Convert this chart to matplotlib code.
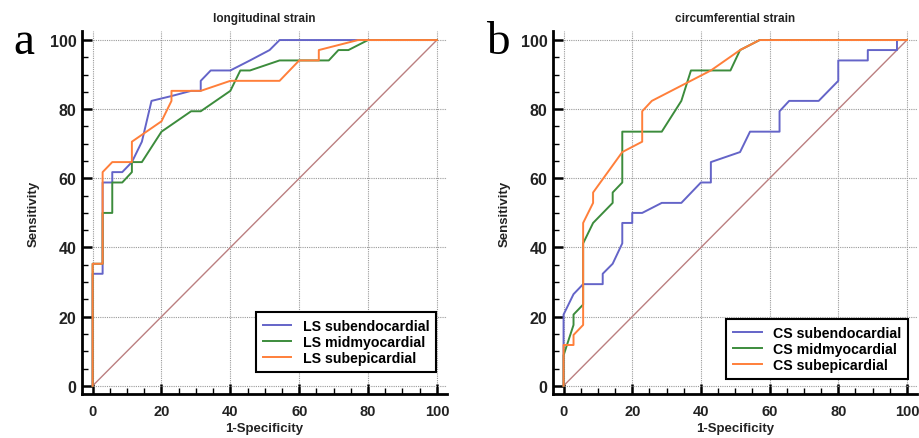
import matplotlib
matplotlib.use('Agg')
import matplotlib.pyplot as plt
from matplotlib.ticker import MultipleLocator

# ROC points, longitudinal strain (1-specificity, sensitivity in %)
ls_endo_x = [0, 0, 2.9, 2.9, 5.7, 5.7, 8.6, 11.4, 14.3, 17.1, 22.9, 28.6, 31.4, 31.4,
             34.3, 40.0, 45.7, 51.4, 54.3, 77.1, 100]
ls_endo_y = [0, 32.4, 32.4, 58.8, 58.8, 61.8, 61.8, 64.7, 70.6, 82.4, 83.8, 85.3, 85.3, 88.2,
             91.2, 91.2, 94.1, 97.1, 100, 100, 100]

ls_mid_x = [0, 0, 2.9, 2.9, 5.7, 5.7, 8.6, 11.4, 11.4, 14.3, 20.0, 28.6, 31.4, 40.0,
            42.9, 45.7, 54.3, 68.6, 71.4, 74.3, 80.0, 100]
ls_mid_y = [0, 35.3, 35.3, 50.0, 50.0, 58.8, 58.8, 61.8, 64.7, 64.7, 73.5, 79.4, 79.4, 85.3,
            91.2, 91.2, 94.1, 94.1, 97.1, 97.1, 100, 100]

ls_epi_x = [0, 0, 2.9, 2.9, 5.7, 11.4, 11.4, 20.0, 22.9, 22.9, 31.4, 40.0, 54.3, 60.0,
            65.7, 65.7, 77.1, 100]
ls_epi_y = [0, 35.3, 35.3, 61.8, 64.7, 64.7, 70.6, 76.5, 82.4, 85.3, 85.3, 88.2, 88.2, 94.1,
            94.1, 97.1, 100, 100]

# ROC points, circumferential strain
cs_endo_x = [0, 0, 2.9, 5.7, 11.4, 11.4, 14.3, 17.1, 17.1, 20.0, 20.0, 22.9, 28.6, 34.3,
             40.0, 42.9, 42.9, 51.4, 54.3, 62.9, 62.9, 65.7, 74.3, 80.0, 80.0, 88.6, 88.6,
             97.1, 97.1, 100]
cs_endo_y = [0, 20.6, 26.5, 29.4, 29.4, 32.4, 35.3, 41.2, 47.1, 47.1, 50.0, 50.0, 52.9, 52.9,
             58.8, 58.8, 64.7, 67.6, 73.5, 73.5, 79.4, 82.4, 82.4, 88.2, 94.1, 94.1, 97.1,
             97.1, 100, 100]

cs_mid_x = [0, 0, 2.9, 2.9, 5.7, 5.7, 8.6, 14.3, 14.3, 17.1, 17.1, 28.6, 34.3, 37.1,
            48.6, 51.4, 57.1, 100]
cs_mid_y = [0, 8.8, 17.6, 20.6, 23.5, 41.2, 47.1, 52.9, 55.9, 58.8, 73.5, 73.5, 82.4, 91.2,
            91.2, 97.1, 100, 100]

cs_epi_x = [0, 0, 2.9, 2.9, 5.7, 5.7, 8.6, 8.6, 17.1, 22.9, 22.9, 25.7, 42.9, 51.4, 57.1, 100]
cs_epi_y = [0, 11.8, 11.8, 14.7, 17.6, 47.1, 52.9, 55.9, 67.6, 70.6, 79.4, 82.4, 91.2, 97.1,
            100, 100]

ticks = [0, 20, 40, 60, 80, 100]

BLUE = '#6464c8'
GREEN = '#3c8c3c'
ORANGE = '#ff7f3a'
DIAG = '#bb7f80'


def roc_panel(ax, curves, title, letter, letter_x, leg_anchor):
    ax.plot([0, 100], [0, 100], color=DIAG, lw=1.0, zorder=2)
    for x, y, c, lab in curves:
        ax.plot(x, y, color=c, lw=1.4, label=lab, zorder=3)

    ax.set_xlim(-3.1, 103)
    ax.set_ylim(-2.4, 102.6)
    ax.set_xticks(ticks)
    ax.set_yticks(ticks)
    ax.xaxis.set_minor_locator(MultipleLocator(5))
    ax.yaxis.set_minor_locator(MultipleLocator(5))
    ax.grid(True, which='major', color='#9a9a9a', lw=0.8, linestyle=(0, (1, 1)), zorder=1)

    for s in ['top', 'right']:
        ax.spines[s].set_visible(False)
    for s in ['left', 'bottom']:
        ax.spines[s].set_linewidth(2.0)
    ax.tick_params(which='both', direction='in')
    ax.tick_params(which='major', length=7, width=1.8)
    ax.tick_params(which='minor', length=4, width=1.0)
    ax.tick_params(axis='x', which='major', labelsize=10.5, pad=7)
    ax.tick_params(axis='y', which='major', labelsize=11.5, pad=4)
    for lbl in ax.get_xticklabels() + ax.get_yticklabels():
        lbl.set_fontweight('bold')
        lbl.set_color('#222222')

    ax.set_xlabel('1-Specificity', fontsize=9.5, fontweight='bold', labelpad=3, color='#222222')
    ax.set_ylabel('Sensitivity', fontsize=9.5, fontweight='bold', labelpad=7, color='#222222')
    ax.set_title(title, fontsize=8.5, fontweight='bold', pad=7, color='#222222')
    ax.text(letter_x, 0.94, letter, transform=ax.transAxes, fontsize=34,
            family='Liberation Serif', ha='center', va='baseline')

    leg = ax.legend(loc='lower right', bbox_to_anchor=leg_anchor, frameon=True,
                    fancybox=False, edgecolor='black', framealpha=1,
                    prop={'weight': 'bold', 'size': 10.2}, handlelength=2.0,
                    borderpad=0.5, labelspacing=0.14, handletextpad=0.8,
                    borderaxespad=0)
    leg.get_frame().set_linewidth(1.5)


def main():
    plt.rcParams['font.family'] = ['Liberation Sans', 'DejaVu Sans']
    fig = plt.figure(figsize=(9.2, 4.39), dpi=100)

    ax1 = fig.add_axes([0.0891, 0.100, 0.397, 0.827])
    roc_panel(ax1, [(ls_endo_x, ls_endo_y, BLUE, 'LS subendocardial'),
                    (ls_mid_x, ls_mid_y, GREEN, 'LS midmyocardial'),
                    (ls_epi_x, ls_epi_y, ORANGE, 'LS subepicardial')],
              'longitudinal strain', 'a', -0.159, (0.970, 0.060))

    ax2 = fig.add_axes([0.601, 0.100, 0.396, 0.827])
    roc_panel(ax2, [(cs_endo_x, cs_endo_y, BLUE, 'CS subendocardial'),
                    (cs_mid_x, cs_mid_y, GREEN, 'CS midmyocardial'),
                    (cs_epi_x, cs_epi_y, ORANGE, 'CS subepicardial')],
              'circumferential strain', 'b', -0.151, (0.976, 0.041))

    fig.savefig('out.png', dpi=100)


if __name__ == '__main__':
    main()
